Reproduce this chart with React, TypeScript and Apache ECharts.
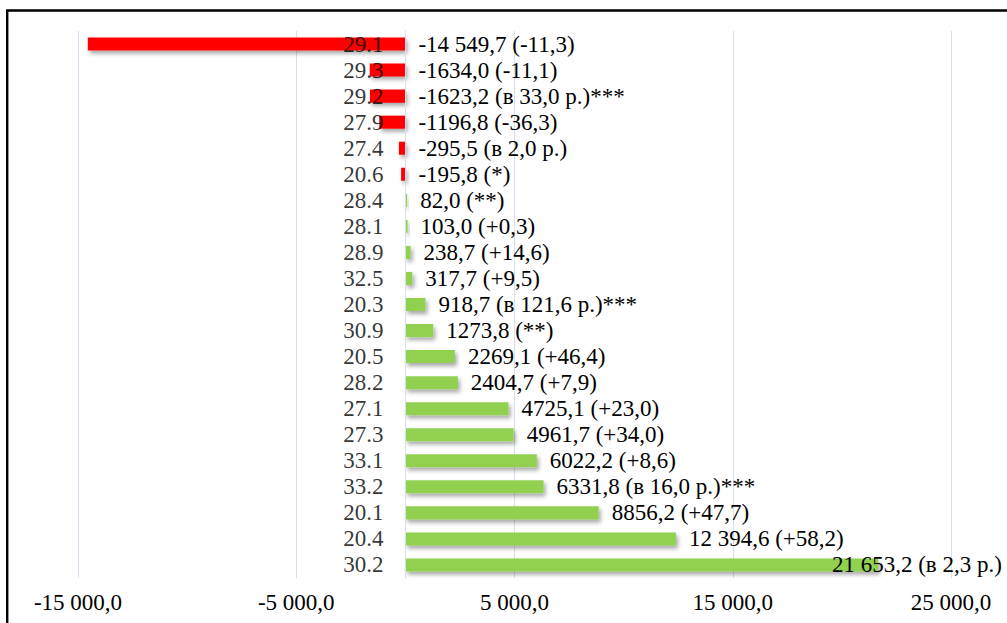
import React, { useEffect, useRef } from "react";
import * as echarts from "echarts";

// Categories (top to bottom) and their absolute changes
const categories = [
  "29.1", "29.3", "29.2", "27.9", "27.4", "20.6", "28.4", "28.1", "28.9", "32.5",
  "20.3", "30.9", "20.5", "28.2", "27.1", "27.3", "33.1", "33.2", "20.1", "20.4", "30.2",
];
const values = [
  -14549.7, -1634.0, -1623.2, -1196.8, -295.5, -195.8, 82.0, 103.0, 238.7, 317.7,
  918.7, 1273.8, 2269.1, 2404.7, 4725.1, 4961.7, 6022.2, 6331.8, 8856.2, 12394.6, 21653.2,
];
// Relative change shown in brackets after each value
const notes = [
  "(-11,3)", "(-11,1)", "(в 33,0 р.)***", "(-36,3)", "(в 2,0 р.)", "(*)", "(**)", "(+0,3)",
  "(+14,6)", "(+9,5)", "(в 121,6 р.)***", "(**)", "(+46,4)", "(+7,9)", "(+23,0)", "(+34,0)",
  "(+8,6)", "(в 16,0 р.)***", "(+47,7)", "(+58,2)", "(в 2,3 р.)",
];
// Labelled x-axis ticks
const xTicks = [-15000, -5000, 5000, 15000, 25000];

const FONT = "'Liberation Serif', 'Times New Roman', serif";
const FONT_SIZE = 23;
const GRID_COLOR = "#D6E1EF";

function groupThousands(s: string): string {
  return s.replace(/\B(?=(\d{3})+(?!\d))/g, " ");
}

function formatValue(v: number): string {
  const abs = Math.abs(v);
  let [i, d] = abs.toFixed(1).split(".");
  if (abs >= 10000) i = groupThousands(i);
  return (v < 0 ? "-" : "") + i + "," + d;
}

function formatTick(v: number): string {
  const abs = Math.abs(v);
  const [i, d] = abs.toFixed(1).split(".");
  return (v < 0 ? "-" : "") + groupThousands(i) + "," + d;
}

export default function App() {
  const ref = useRef<HTMLDivElement>(null);

  useEffect(() => {
    if (!ref.current) return;
    const chart = echarts.init(ref.current, undefined, { renderer: "svg" });

    const barData = values.map((v) => ({
      value: v,
      itemStyle: { color: v < 0 ? "#FF0000" : "#92D050" },
    }));

    // Transparent companion bars carry the value labels: they start at zero for
    // negative values so the text always sits to the right of the zero line.
    const labelData = values.map((v, idx) => {
      const item: any = { value: Math.max(v, 0) };
      if (idx === values.length - 1) {
        item.label = { offset: [-59, 0] };
      }
      return item;
    });

    // Category names are drawn next to the zero line
    const nameData = categories.map((c) => [0, c]);

    chart.setOption({
      animation: false,
      backgroundColor: "#ffffff",
      grid: { left: 78, right: 56, top: 31, bottom: 45, containLabel: false },
      xAxis: {
        type: "value",
        min: -15000,
        max: 25000,
        interval: 5000,
        axisLine: { show: false },
        axisTick: { show: false },
        splitLine: { show: false },
        axisLabel: {
          margin: 13,
          fontFamily: FONT,
          fontSize: FONT_SIZE,
          color: "#000",
          formatter: (v: number) => (xTicks.includes(v) ? formatTick(v) : ""),
        },
      },
      yAxis: {
        type: "category",
        data: categories,
        inverse: true,
        z: 5,
        axisLine: { show: true, onZero: true, lineStyle: { color: GRID_COLOR, width: 1 } },
        axisTick: { show: false },
        axisLabel: { show: false },
      },
      series: [
        {
          type: "bar",
          data: barData,
          barWidth: "50%",
          z: 2,
          itemStyle: {
            shadowBlur: 4,
            shadowOffsetX: 2,
            shadowOffsetY: 3,
            shadowColor: "rgba(0,0,0,0.35)",
          },
          markLine: {
            silent: true,
            symbol: "none",
            label: { show: false },
            lineStyle: { color: GRID_COLOR, width: 1, type: "solid" },
            data: xTicks.map((t) => ({ xAxis: t })),
            z: 1,
          },
        },
        {
          type: "bar",
          data: labelData,
          barWidth: "50%",
          barGap: "-100%",
          z: 6,
          itemStyle: { color: "rgba(0,0,0,0)" },
          label: {
            show: true,
            position: "right",
            distance: 13,
            fontFamily: FONT,
            fontSize: FONT_SIZE,
            color: "#000",
            formatter: (p: any) => formatValue(values[p.dataIndex]) + " " + notes[p.dataIndex],
          },
        },
        {
          type: "scatter",
          data: nameData,
          symbolSize: 0,
          z: 7,
          silent: true,
          label: {
            show: true,
            position: "left",
            distance: 22,
            fontFamily: FONT,
            fontSize: FONT_SIZE,
            color: "#000",
            formatter: (p: any) => categories[p.dataIndex],
          },
        },
      ],
      graphic: [
        {
          type: "rect",
          shape: { x: 7.2, y: 10.5, width: 1010, height: 640 },
          style: { fill: "none", stroke: "#000", lineWidth: 2.4 },
          z: 10,
          silent: true,
        },
      ],
    });

    return () => chart.dispose();
  }, []);

  return (
    <div
      ref={ref}
      style={{ position: "fixed", left: 0, top: 0, width: 1007, height: 623 }}
    />
  );
}
